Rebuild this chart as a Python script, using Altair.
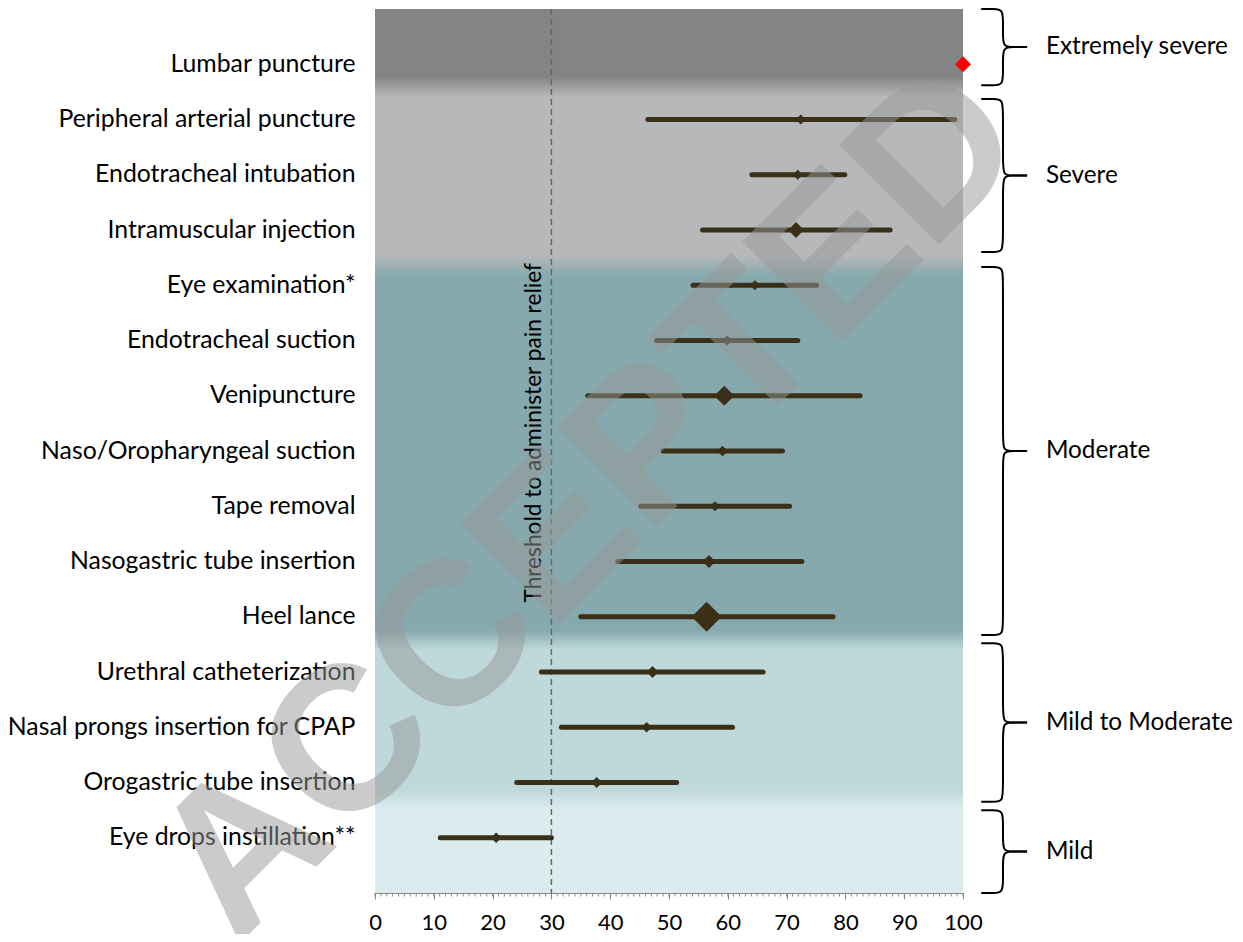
import json
import altair as alt
import pandas as pd

# ---------------- data ----------------
procedures = [
    "Lumbar puncture", "Peripheral arterial puncture", "Endotracheal intubation",
    "Intramuscular injection", "Eye examination*", "Endotracheal suction",
    "Venipuncture", "Naso/Oropharyngeal suction", "Tape removal",
    "Nasogastric tube insertion", "Heel lance", "Urethral catheterization",
    "Nasal prongs insertion for CPAP", "Orogastric tube insertion",
    "Eye drops instillation**",
]
median = [100, 72.4, 71.9, 71.6, 64.6, 59.9, 59.4, 59.1, 57.8, 56.8, 56.4, 47.2, 46.2, 37.7, 20.6]
low = [None, 46.4, 64.1, 55.7, 54.1, 47.9, 36.2, 49.0, 45.2, 41.3, 35.0, 28.3, 31.7, 24.1, 11.1]
high = [None, 98.6, 79.9, 87.6, 75.1, 71.9, 82.5, 69.3, 70.5, 72.6, 77.9, 66.0, 60.8, 51.3, 30.0]
n_weight = [256, 100, 100, 256, 100, 100, 400, 110, 100, 170, 900, 144, 110, 120, 110]
point_color = ["#ff0000"] + ["#3a2f17"] * 14

band_names = ["Extremely severe", "Severe", "Moderate", "Mild to Moderate", "Mild"]
band_start = [-1.0, 0.41, 3.65, 10.42, 13.32]
band_end = [0.41, 3.65, 10.42, 13.32, 15.0]
band_colors = ["#848484", "#b6b8ba", "#86a9ad", "#bfd9da", "#dcebee"]

brace_start = [-1.0, 0.63, 3.67, 10.48, 13.50]
brace_end = [0.38, 3.40, 10.33, 13.35, 15.0]

threshold = [30]
threshold_label = "Threshold to administer pain relief"
x_ticks = list(range(0, 101, 10))
minor_ticks = list(range(0, 101, 1))
watermark_text = "ACCEPTED"

# ---------------- frames ----------------
W, H = 588, 884
FONT = "Lato"
LINE_COL = "#3a2f17"
LABEL_SIZE = 24.8

df = pd.DataFrame({"i": list(range(len(procedures))), "proc": procedures,
                   "median": median, "low": low, "high": high,
                   "w": n_weight, "col": point_color})
bands = pd.DataFrame({"name": band_names, "y0": band_start, "y1": band_end,
                      "col": band_colors, "x0": 0, "x1": 100})

xs = alt.Scale(domain=[0, 100], nice=False, zero=False)
ys = alt.Scale(domain=[-1, 15], nice=False, zero=False, reverse=True)

labels_expr = json.dumps(procedures) + "[datum.value]"

base_x_axis = alt.Axis(values=x_ticks, title=None, grid=False, tickSize=6,
                       tickColor="#888888", domainColor="#888888",
                       labelFont=FONT, labelFontSize=22, labelColor="black",
                       labelPadding=13, labelFlush=False, labelOverlap=False)

band_layer = alt.Chart(bands).mark_rect().encode(
    x=alt.X("x0:Q", scale=xs, axis=base_x_axis),
    x2="x1:Q",
    y=alt.Y("y0:Q", scale=ys, axis=alt.Axis(
        values=list(range(len(procedures))), labelExpr=labels_expr, title=None,
        grid=False, ticks=False, domainColor="#888888", labelFont=FONT,
        labelFontSize=LABEL_SIZE, labelColor="black", labelPadding=20, labelLimit=0,
        labelOverlap=False, labelFlush=False)),
    y2="y1:Q",
    color=alt.Color("col:N", scale=None),
)

# soft transitions between bands
trans_layers = []
for k in range(len(band_names) - 1):
    b = band_end[k]
    tdf = pd.DataFrame({"y0": [b - 0.18], "y1": [b + 0.18], "x0": [0], "x1": [100]})
    trans_layers.append(
        alt.Chart(tdf).mark_rect(color=alt.Gradient(
            gradient="linear", x1=0, x2=0, y1=0, y2=1,
            stops=[alt.GradientStop(color=band_colors[k], offset=0),
                   alt.GradientStop(color=band_colors[k + 1], offset=1)])).encode(
            x=alt.X("x0:Q", scale=xs), x2="x1:Q",
            y=alt.Y("y0:Q", scale=ys), y2="y1:Q"))

thr_df = pd.DataFrame({"x": threshold})
thr_rule = alt.Chart(thr_df).mark_rule(color="#666666", strokeWidth=1.5, strokeDash=[6, 4]).encode(
    x=alt.X("x:Q", scale=xs), y=alt.value(0), y2=alt.value(H))

thr_text = alt.Chart(pd.DataFrame({"x": [27.0], "y": [6.67],
                                   "t": [threshold_label]})).mark_text(
    angle=270, align="center", baseline="middle", font=FONT, fontSize=22.7, color="black").encode(
    x=alt.X("x:Q", scale=xs), y=alt.Y("y:Q", scale=ys), text="t:N")

err = alt.Chart(df).transform_filter("datum.low != null").mark_rule(
    strokeWidth=5, strokeCap="round", color=LINE_COL).encode(
    x=alt.X("low:Q", scale=xs), x2="high:Q", y=alt.Y("i:Q", scale=ys))

pts = alt.Chart(df).mark_point(shape="diamond", filled=True, opacity=1).encode(
    x=alt.X("median:Q", scale=xs), y=alt.Y("i:Q", scale=ys),
    size=alt.Size("w:Q", scale=None, legend=None),
    color=alt.Color("col:N", scale=None))

minor = alt.Chart(pd.DataFrame({"x": minor_ticks})).mark_rule(color="#888888", strokeWidth=1).encode(
    x=alt.X("x:Q", scale=xs), y=alt.value(H), y2=alt.value(H + 3.5))

# braces
x0, x1, tip = 103.1, 106.8, 110.9
rows = []
for g, (a, b) in enumerate(zip(brace_start, brace_end)):
    m = (a + b) / 2
    for half, end in (("t", a), ("b", b)):
        s = 1 if half == "t" else -1
        pts_half = [(x0, end), (x1 - 1.6, end), (x1, end), (x1, end + s * 0.28),
                    (x1, m - s * 0.28), (x1, m), (x1 + 1.6, m), (tip, m)]
        for o, (px, py) in enumerate(pts_half):
            rows.append({"seg": f"{g}{half}", "o": o, "x": px, "y": py})
brace_df = pd.DataFrame(rows)
braces = alt.Chart(brace_df).mark_line(interpolate="basis", color="black", strokeWidth=2).encode(
    x=alt.X("x:Q", scale=xs), y=alt.Y("y:Q", scale=ys), detail="seg:N", order="o:Q")

brace_lab_df = pd.DataFrame({"name": band_names,
                             "y": [(a + b) / 2 for a, b in zip(brace_start, brace_end)],
                             "x": [114.1] * len(band_names)})
brace_labels = alt.Chart(brace_lab_df).mark_text(
    align="left", baseline="middle", font=FONT, fontSize=24.3, color="black").encode(
    x=alt.X("x:Q", scale=xs), y=alt.Y("y:Q", scale=ys), text="name:N")

watermark = alt.Chart(pd.DataFrame({"x": [44.2], "y": [8.76], "t": [watermark_text]})).mark_text(
    angle=315, align="center", baseline="alphabetic", font="Liberation Sans", fontWeight="bold",
    fontSize=205, color="#999999", opacity=0.5).encode(
    x=alt.X("x:Q", scale=xs), y=alt.Y("y:Q", scale=ys), text="t:N")

chart = alt.layer(band_layer, *trans_layers, thr_rule, err, pts, thr_text, minor,
                  braces, brace_labels, watermark).properties(
    width=W, height=H,
    autosize=alt.AutoSizeParams(type="none"),
    padding={"left": 367, "top": 1, "right": 272, "bottom": 41},
).configure_view(stroke=None)

chart.save("out.html", embed_options={"renderer": "svg", "actions": False})
